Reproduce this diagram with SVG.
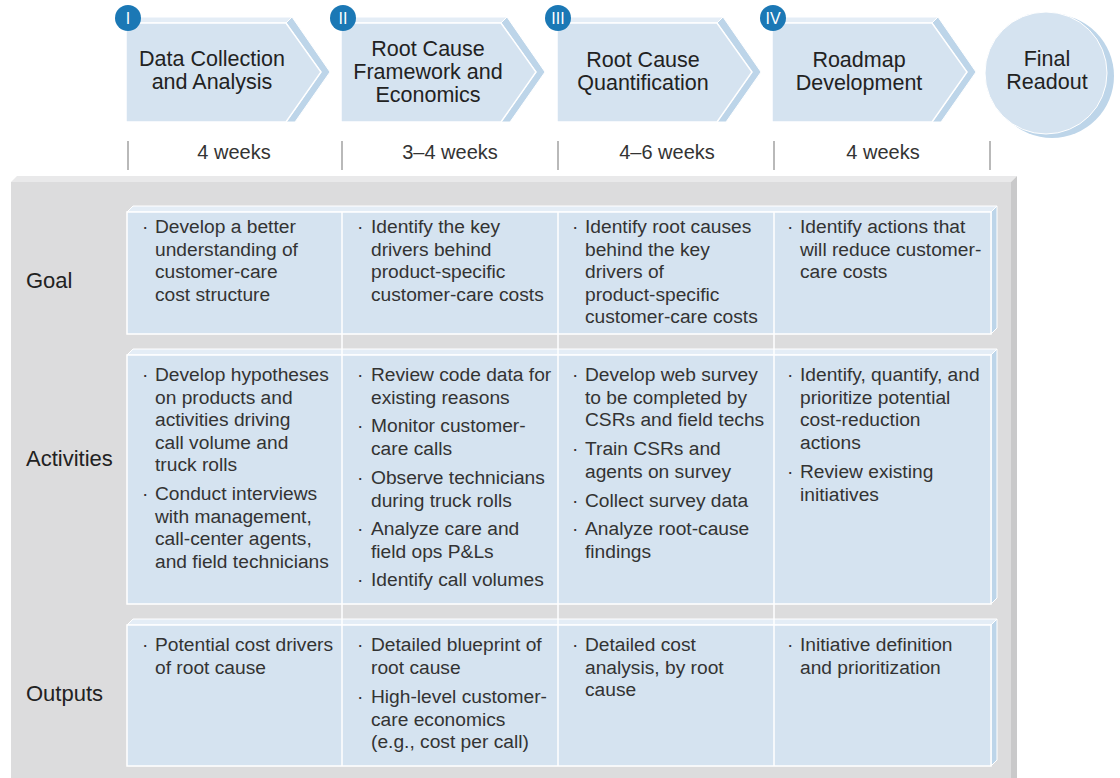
<svg xmlns="http://www.w3.org/2000/svg" width="1120" height="778" viewBox="0 0 1120 778">
<defs>
<style>
.front{fill:#d5e3f0;stroke:#ffffff;stroke-width:1.5}
.topb{fill:#e4edf6;stroke:#ffffff;stroke-width:1}
.rightb{fill:#bdd5e9;stroke:#ffffff;stroke-width:1}
.badge{fill:#1b78b5}
.num{font-family:"Liberation Sans",Arial,sans-serif;font-size:16px;fill:#ffffff;text-anchor:middle}
.head{font-family:"Liberation Sans",Arial,sans-serif;font-size:21.5px;fill:#222222;text-anchor:middle}
.dur{font-family:"Liberation Sans",Arial,sans-serif;font-size:20px;fill:#333333;text-anchor:middle}
.lbl{font-family:"Liberation Sans",Arial,sans-serif;font-size:22px;fill:#222222}
.body{font-family:"Liberation Sans",Arial,sans-serif;font-size:19.2px;fill:#333333}
.tick{stroke:#8a8a8a;stroke-width:1.2}
.sep{stroke:#ffffff;stroke-width:1.5}
</style>
</defs>

<!-- Phase header chevrons -->
<g id="phase1">
<polygon class="topb" points="126,23 132,17 292,17 286,23"/>
<polygon class="rightb" points="286,23 292,17 330,72 295,122 286,122 321,72"/>
<polygon class="front" points="126,23 286,23 321,72 286,122 126,122"/>
<circle class="badge" cx="128" cy="18" r="13"/>
<text class="num" x="128" y="24">I</text>
<text class="head" x="212" y="66">Data Collection<tspan x="212" dy="23">and Analysis</tspan></text>
</g>
<g id="phase2">
<polygon class="topb" points="341,23 347,17 507,17 501,23"/>
<polygon class="rightb" points="501,23 507,17 545,72 510,122 501,122 536,72"/>
<polygon class="front" points="341,23 501,23 536,72 501,122 341,122"/>
<circle class="badge" cx="343" cy="18" r="13"/>
<text class="num" x="343" y="24">II</text>
<text class="head" x="428" y="56">Root Cause<tspan x="428" dy="23">Framework and</tspan><tspan x="428" dy="23">Economics</tspan></text>
</g>
<g id="phase3">
<polygon class="topb" points="557,23 563,17 723,17 717,23"/>
<polygon class="rightb" points="717,23 723,17 761,72 726,122 717,122 752,72"/>
<polygon class="front" points="557,23 717,23 752,72 717,122 557,122"/>
<circle class="badge" cx="558" cy="18" r="13"/>
<text class="num" x="558" y="24">III</text>
<text class="head" x="643" y="67">Root Cause<tspan x="643" dy="23">Quantification</tspan></text>
</g>
<g id="phase4">
<polygon class="topb" points="772,23 778,17 938,17 932,23"/>
<polygon class="rightb" points="932,23 938,17 976,72 941,122 932,122 967,72"/>
<polygon class="front" points="772,23 932,23 967,72 932,122 772,122"/>
<circle class="badge" cx="773" cy="18" r="13"/>
<text class="num" x="773" y="24">IV</text>
<text class="head" x="859" y="67">Roadmap<tspan x="859" dy="23">Development</tspan></text>
</g>
<g id="final">
<circle cx="1052" cy="76" r="62" fill="#bdd5e9"/>
<circle cx="1046" cy="73" r="61" fill="#d5e3f0" stroke="#ffffff" stroke-width="1"/>
<text class="head" x="1047" y="66">Final<tspan x="1047" dy="23">Readout</tspan></text>
</g>

<!-- Timeline -->
<g id="timeline">
<line class="tick" x1="128" y1="141" x2="128" y2="170"/>
<line class="tick" x1="342" y1="141" x2="342" y2="170"/>
<line class="tick" x1="558" y1="141" x2="558" y2="170"/>
<line class="tick" x1="774" y1="141" x2="774" y2="170"/>
<line class="tick" x1="990" y1="141" x2="990" y2="170"/>
<text class="dur" x="234" y="159">4 weeks</text>
<text class="dur" x="450" y="159">3–4 weeks</text>
<text class="dur" x="667" y="159">4–6 weeks</text>
<text class="dur" x="883" y="159">4 weeks</text>
</g>

<!-- Gray panel -->
<g id="panel">
<polygon fill="#e9e9ea" points="11,182 17,176 1017,176 1011,182"/>
<polygon fill="#c9c9ca" points="1011,182 1017,176 1017,778 1011,778"/>
<rect x="11" y="182" width="1000" height="596" fill="#dcdcdd"/>
</g>

<!-- Row boxes -->
<g id="goal-row">
<polygon class="topb" points="127,212 133,206 997,206 991,212"/>
<polygon class="rightb" points="991,212 997,206 997,328 991,334"/>
<rect class="front" x="127" y="212" width="864" height="122"/>
</g>
<g id="activities-row">
<polygon class="topb" points="127,355 133,349 997,349 991,355"/>
<polygon class="rightb" points="991,355 997,349 997,598 991,604"/>
<rect class="front" x="127" y="355" width="864" height="249"/>
</g>
<g id="outputs-row">
<polygon class="topb" points="127,625 133,619 997,619 991,625"/>
<polygon class="rightb" points="991,625 997,619 997,760 991,766"/>
<rect class="front" x="127" y="625" width="864" height="141"/>
</g>
<g id="column-lines">
<line class="sep" x1="342" y1="212" x2="342" y2="766"/>
<line class="sep" x1="558" y1="212" x2="558" y2="766"/>
<line class="sep" x1="774" y1="212" x2="774" y2="766"/>
</g>

<!-- Row labels -->
<g id="row-labels">
<text class="lbl" x="26" y="288">Goal</text>
<text class="lbl" x="26" y="466">Activities</text>
<text class="lbl" x="26" y="701">Outputs</text>
</g>

<!-- Goal texts -->
<g id="goal-texts">
<text class="body" x="142" y="233">·</text>
<text class="body" x="155" y="233">Develop a better<tspan x="155" dy="22.5">understanding of</tspan><tspan x="155" dy="22.5">customer-care</tspan><tspan x="155" dy="22.5">cost structure</tspan></text>
<text class="body" x="357" y="233">·</text>
<text class="body" x="371" y="233">Identify the key<tspan x="371" dy="22.5">drivers behind</tspan><tspan x="371" dy="22.5">product-specific</tspan><tspan x="371" dy="22.5">customer-care costs</tspan></text>
<text class="body" x="572" y="233">·</text>
<text class="body" x="585" y="233">Identify root causes<tspan x="585" dy="22.5">behind the key</tspan><tspan x="585" dy="22.5">drivers of</tspan><tspan x="585" dy="22.5">product-specific</tspan><tspan x="585" dy="22.5">customer-care costs</tspan></text>
<text class="body" x="787" y="233">·</text>
<text class="body" x="800" y="233">Identify actions that<tspan x="800" dy="22.5">will reduce customer-</tspan><tspan x="800" dy="22.5">care costs</tspan></text>
</g>

<!-- Activities texts -->
<g id="activities-texts">
<text class="body" x="142" y="381">·</text>
<text class="body" x="155" y="381">Develop hypotheses<tspan x="155" dy="22.5">on products and</tspan><tspan x="155" dy="22.5">activities driving</tspan><tspan x="155" dy="22.5">call volume and</tspan><tspan x="155" dy="22.5">truck rolls</tspan></text>
<text class="body" x="142" y="500">·</text>
<text class="body" x="155" y="500">Conduct interviews<tspan x="155" dy="22.5">with management,</tspan><tspan x="155" dy="22.5">call-center agents,</tspan><tspan x="155" dy="22.5">and field technicians</tspan></text>

<text class="body" x="357" y="381">·</text>
<text class="body" x="371" y="381">Review code data for<tspan x="371" dy="22.5">existing reasons</tspan></text>
<text class="body" x="357" y="432">·</text>
<text class="body" x="371" y="432">Monitor customer-<tspan x="371" dy="22.5">care calls</tspan></text>
<text class="body" x="357" y="484">·</text>
<text class="body" x="371" y="484">Observe technicians<tspan x="371" dy="22.5">during truck rolls</tspan></text>
<text class="body" x="357" y="535">·</text>
<text class="body" x="371" y="535">Analyze care and<tspan x="371" dy="22.5">field ops P&amp;Ls</tspan></text>
<text class="body" x="357" y="586">·</text>
<text class="body" x="371" y="586">Identify call volumes</text>

<text class="body" x="572" y="381">·</text>
<text class="body" x="585" y="381">Develop web survey<tspan x="585" dy="22.5">to be completed by</tspan><tspan x="585" dy="22.5">CSRs and field techs</tspan></text>
<text class="body" x="572" y="455">·</text>
<text class="body" x="585" y="455">Train CSRs and<tspan x="585" dy="22.5">agents on survey</tspan></text>
<text class="body" x="572" y="507">·</text>
<text class="body" x="585" y="507">Collect survey data</text>
<text class="body" x="572" y="535">·</text>
<text class="body" x="585" y="535">Analyze root-cause<tspan x="585" dy="22.5">findings</tspan></text>

<text class="body" x="787" y="381">·</text>
<text class="body" x="800" y="381">Identify, quantify, and<tspan x="800" dy="22.5">prioritize potential</tspan><tspan x="800" dy="22.5">cost-reduction</tspan><tspan x="800" dy="22.5">actions</tspan></text>
<text class="body" x="787" y="478">·</text>
<text class="body" x="800" y="478">Review existing<tspan x="800" dy="22.5">initiatives</tspan></text>
</g>

<!-- Outputs texts -->
<g id="outputs-texts">
<text class="body" x="142" y="651">·</text>
<text class="body" x="155" y="651">Potential cost drivers<tspan x="155" dy="22.5">of root cause</tspan></text>
<text class="body" x="357" y="651">·</text>
<text class="body" x="371" y="651">Detailed blueprint of<tspan x="371" dy="22.5">root cause</tspan></text>
<text class="body" x="357" y="703">·</text>
<text class="body" x="371" y="703">High-level customer-<tspan x="371" dy="22.5">care economics</tspan><tspan x="371" dy="22.5">(e.g., cost per call)</tspan></text>
<text class="body" x="572" y="651">·</text>
<text class="body" x="585" y="651">Detailed cost<tspan x="585" dy="22.5">analysis, by root</tspan><tspan x="585" dy="22.5">cause</tspan></text>
<text class="body" x="787" y="651">·</text>
<text class="body" x="800" y="651">Initiative definition<tspan x="800" dy="22.5">and prioritization</tspan></text>
</g>
</svg>
